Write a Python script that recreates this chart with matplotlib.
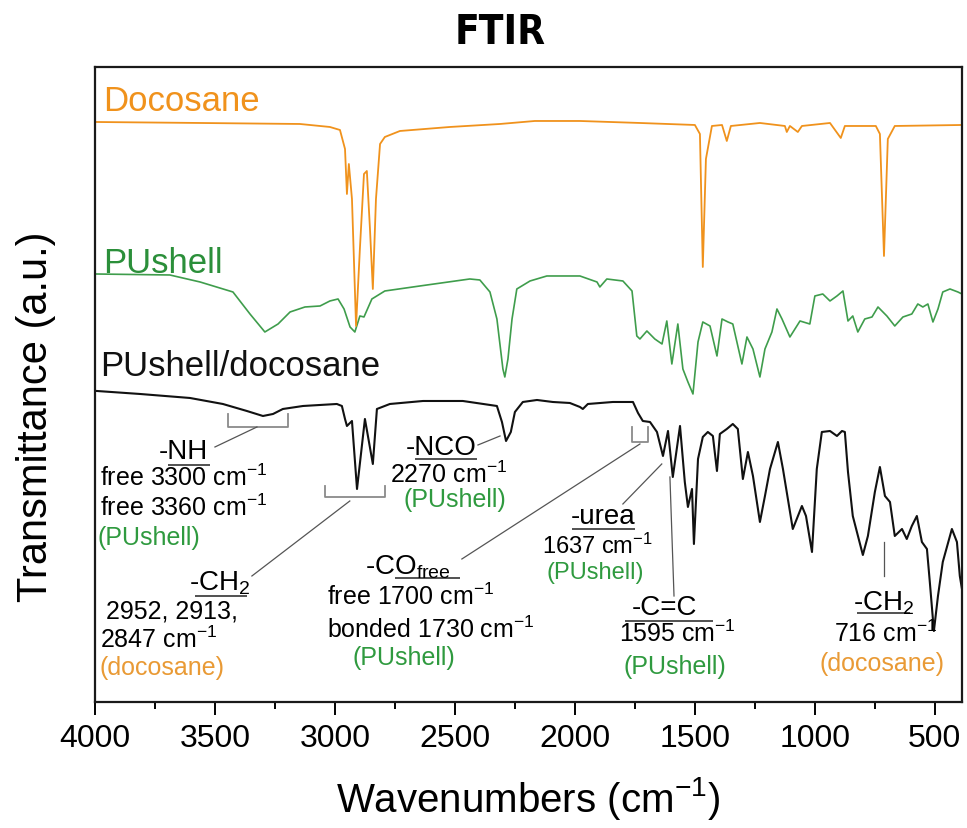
import matplotlib
matplotlib.use('Agg')
import matplotlib.pyplot as plt
import numpy as np
from matplotlib.ticker import MultipleLocator

plt.rcParams['font.family'] = ['Liberation Sans', 'DejaVu Sans']
plt.rcParams['mathtext.fontset'] = 'custom'
plt.rcParams['mathtext.rm'] = 'Liberation Sans'
plt.rcParams['mathtext.it'] = 'Liberation Sans:italic'
plt.rcParams['mathtext.bf'] = 'Liberation Sans:bold'

ORANGE = '#f0921c'
ORANGE_TXT = '#e99a35'
GREEN = '#3f9d4c'
GREEN_TXT = '#2f9a3f'
GRAY = '#8a8a8a'

# spectra (wavenumber cm-1, transmittance a.u.)
docosane_wn = [4000, 3562, 3146, 3021, 2979, 2958, 2950, 2942, 2929, 2912, 2896, 2879,
               2867, 2854, 2842, 2829, 2812, 2792, 2729, 2521, 2312, 2167, 1979, 1729,
               1500, 1479, 1467, 1454, 1429, 1387, 1367, 1350, 1229, 1125, 1117, 1104,
               1071, 1054, 937, 892, 875, 746, 729, 712, 696, 667, 387]
docosane_t = [580, 579, 578, 575, 572, 553, 508, 538, 503, 376, 453, 528,
              531, 473, 413, 503, 558, 565, 571, 575, 578, 581, 581, 579,
              577, 568, 435, 543, 576, 577, 561, 576, 579, 576, 570, 576,
              570, 576, 579, 564, 576, 576, 568, 446, 563, 576, 577]

pushell_wn = [4000, 3688, 3562, 3425, 3354, 3292, 3237, 3187, 3125, 3062, 3021, 2987,
              2962, 2937, 2917, 2896, 2879, 2846, 2792, 2646, 2438, 2396, 2354, 2325,
              2300, 2292, 2279, 2262, 2242, 2187, 2117, 1979, 1908, 1896, 1867, 1800,
              1762, 1742, 1729, 1700, 1667, 1637, 1617, 1596, 1571, 1550, 1529, 1508,
              1487, 1467, 1437, 1408, 1387, 1362, 1342, 1304, 1283, 1258, 1229, 1208,
              1179, 1158, 1137, 1104, 1062, 1021, 1000, 967, 937, 908, 883, 862,
              842, 821, 792, 762, 737, 700, 667, 633, 596, 571, 550, 529,
              508, 487, 467, 437, 404, 387]
pushell_t = [428, 427, 420, 410, 388, 370, 378, 390, 395, 396, 401, 403,
             393, 375, 370, 386, 385, 403, 411, 416, 423, 422, 410, 383,
             333, 325, 343, 383, 413, 421, 426, 426, 420, 415, 423, 421,
             411, 366, 363, 371, 363, 358, 381, 338, 378, 333, 320, 308,
             360, 380, 376, 346, 383, 380, 378, 338, 365, 353, 325, 353,
             370, 393, 383, 365, 381, 378, 406, 408, 401, 406, 411, 381,
             386, 370, 383, 385, 395, 386, 376, 385, 388, 398, 395, 398,
             380, 393, 410, 413, 410, 408]

composite_wn = [3992, 3812, 3604, 3467, 3367, 3300, 3258, 3217, 3133, 2992, 2971, 2958,
                2950, 2929, 2908, 2875, 2842, 2825, 2771, 2633, 2467, 2325, 2304, 2287,
                2267, 2250, 2217, 2158, 2092, 2021, 1979, 1967, 1946, 1842, 1758, 1737,
                1717, 1687, 1658, 1633, 1612, 1592, 1562, 1542, 1529, 1512, 1504, 1487,
                1467, 1446, 1425, 1408, 1396, 1367, 1342, 1321, 1300, 1279, 1258, 1229,
                1208, 1187, 1154, 1133, 1092, 1054, 1037, 1012, 992, 971, 937, 908,
                887, 875, 862, 842, 800, 779, 750, 729, 708, 687, 667, 637,
                617, 596, 575, 554, 533, 521, 504, 487, 467, 429, 408, 396, 387]
composite_t = [311, 308, 304, 298, 291, 286, 288, 293, 296, 298, 296, 283,
               276, 281, 213, 283, 238, 293, 298, 301, 301, 296, 280, 261,
               270, 290, 300, 302, 300, 299, 295, 293, 298, 300, 300, 289,
               281, 280, 270, 246, 271, 225, 276, 220, 195, 213, 158, 243,
               265, 270, 266, 231, 268, 273, 278, 273, 223, 250, 226, 180,
               206, 233, 260, 233, 173, 196, 186, 150, 233, 270, 271, 266,
               271, 270, 230, 186, 147, 166, 210, 235, 206, 200, 166, 173,
               163, 176, 186, 160, 153, 120, 71, 106, 140, 173, 160, 126, 113]

tick_values = [4000, 3500, 3000, 2500, 2000, 1500, 1000, 500]


def underline(ax, x0, x1, y):
    ax.plot([x0, x1], [y, y], color='#222222', lw=1.1, solid_capstyle='butt')


def bracket(ax, x0, x1, ybot, ytop):
    ax.plot([x0, x0, x1, x1], [ytop, ybot, ybot, ytop], color=GRAY, lw=1.3)


def leader(ax, xa, ya, xb, yb, color='#555555'):
    ax.plot([xa, xb], [ya, yb], color=color, lw=0.9)


fig = plt.figure(figsize=(9.67, 8.29), dpi=100)
ax = fig.add_axes([0.0982, 0.152, 0.8966, 0.766])

ax.plot(pushell_wn, pushell_t, color=GREEN, lw=1.2)
ax.plot(composite_wn, composite_t, color='#111111', lw=1.5)
ax.plot(docosane_wn, docosane_t, color=ORANGE, lw=1.3)

ax.set_xlim(4000, 387)
ax.set_ylim(0, 635)
ax.set_xticks(tick_values)
ax.xaxis.set_minor_locator(MultipleLocator(250))
ax.set_yticks([])
ax.tick_params(axis='x', which='major', direction='out', length=9, width=1.4,
               labelsize=23, pad=6)
ax.tick_params(axis='x', which='minor', direction='out', length=5, width=1.4)
for s in ax.spines.values():
    s.set_linewidth(1.6)
    s.set_color('#1a1a1a')

ax.set_xlabel('Wavenumbers (cm$^{-1}$)', fontsize=29)
ax.xaxis.set_label_coords(0.5, -0.113)
ax.set_ylabel('Transmittance (a.u.)', fontsize=30)
ax.yaxis.set_label_coords(-0.045, 0.45)

fig.text(0.517, 0.96, 'FTIR', ha='center', va='center', fontsize=29,
         fontweight='bold', family='DejaVu Sans', fontstretch='condensed')

# curve names
ax.text(3967, 601, 'Docosane', color=ORANGE, fontsize=25, va='center')
ax.text(3967, 439, 'PUshell', color='#2b8f3a', fontsize=25, va='center')
ax.text(3979, 336, 'PUshell/docosane', color='#111111', fontsize=25, va='center')

# -NH
bracket(ax, 3446, 3196, 275, 288)
leader(ax, 3325, 275, 3500, 255)
ax.text(3633, 251, '-NH', fontsize=20, ha='center', va='center')
underline(ax, 3696, 3521, 237)
ax.text(3979, 225, 'free 3300 cm$^{-1}$', fontsize=18, va='center')
ax.text(3979, 195, 'free 3360 cm$^{-1}$', fontsize=18, va='center')
ax.text(3988, 165, '(PUshell)', fontsize=18, va='center', color=GREEN_TXT)

# -CH2 (docosane, 2900 region)
bracket(ax, 3042, 2792, 205, 216)
leader(ax, 2938, 201, 3346, 126)
ax.text(3479, 120, '-CH$_2$', fontsize=20, ha='center', va='center')
underline(ax, 3583, 3367, 106)
ax.text(3679, 91, '2952, 2913,', fontsize=18, ha='center', va='center')
ax.text(3979, 63, '2847 cm$^{-1}$', fontsize=18, va='center')
ax.text(3979, 35, '(docosane)', fontsize=18, va='center', color=ORANGE_TXT)

# -NCO
leader(ax, 2404, 257, 2312, 266)
ax.text(2558, 255, '-NCO', fontsize=20, ha='center', va='center')
underline(ax, 2667, 2408, 243)
ax.text(2525, 228, '2270 cm$^{-1}$', fontsize=18, ha='center', va='center')
ax.text(2500, 203, '(PUshell)', fontsize=18, ha='center', va='center', color=GREEN_TXT)

# -CO free
bracket(ax, 1762, 1696, 260, 275)
leader(ax, 1729, 258, 2471, 143)
ax.text(2696, 136, '-CO$_{\\mathregular{free}}$', fontsize=20, ha='center', va='center')
underline(ax, 2750, 2479, 124)
ax.text(3033, 106, 'free 1700 cm$^{-1}$', fontsize=18, va='center')
ax.text(3033, 73, 'bonded 1730 cm$^{-1}$', fontsize=18, va='center')
ax.text(2713, 45, '(PUshell)', fontsize=18, ha='center', va='center', color=GREEN_TXT)

# -urea
leader(ax, 1638, 238, 1800, 198)
ax.text(1883, 186, '-urea', fontsize=20, ha='center', va='center')
underline(ax, 2013, 1750, 173)
ax.text(1908, 157, '1637 cm$^{-1}$', fontsize=17, ha='center', va='center')
ax.text(1917, 130, '(PUshell)', fontsize=17, ha='center', va='center', color=GREEN_TXT)

# -C=C
leader(ax, 1604, 225, 1587, 106)
ax.text(1625, 95, '-C=C', fontsize=20, ha='center', va='center')
underline(ax, 1792, 1425, 81)
ax.text(1571, 69, '1595 cm$^{-1}$', fontsize=18, ha='center', va='center')
ax.text(1583, 36, '(PUshell)', fontsize=18, ha='center', va='center', color=GREEN_TXT)

# -CH2 716
leader(ax, 712, 160, 712, 126)
ax.text(712, 100, '-CH$_2$', fontsize=20, ha='center', va='center')
underline(ax, 825, 604, 89)
ax.text(704, 69, '716 cm$^{-1}$', fontsize=18, ha='center', va='center')
ax.text(721, 39, '(docosane)', fontsize=18, ha='center', va='center', color=ORANGE_TXT)

fig.savefig('out.png', dpi=100)
